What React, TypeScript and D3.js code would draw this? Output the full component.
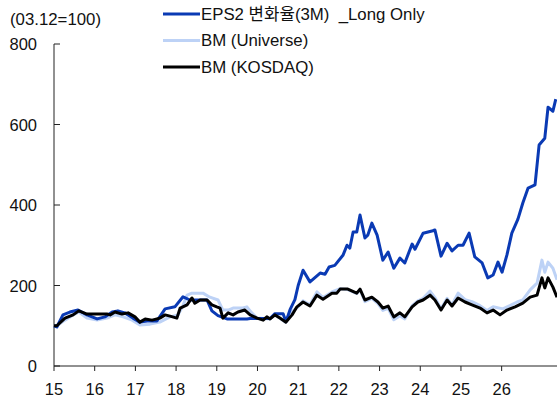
import React from 'react'
import * as d3 from 'd3'

// x = year (2-digit, decimal), y = index (03.12=100)
const yearTicks = [15, 16, 17, 18, 19, 20, 21, 22, 23, 24, 25, 26]
const valueTicks = [0, 200, 400, 600, 800]

const epsSeries: [number, number][] = [
  [15.0, 100], [15.07, 97], [15.22, 127], [15.39, 134], [15.59, 139], [15.81, 127], [16.06, 117],
  [16.25, 122], [16.43, 134], [16.57, 137], [16.74, 132], [16.94, 119], [17.11, 109], [17.29, 112],
  [17.53, 112], [17.73, 142], [17.97, 147], [18.17, 172], [18.34, 164], [18.76, 164], [18.88, 137],
  [19.03, 125], [19.25, 117], [19.74, 117], [19.82, 118], [20.31, 118], [20.43, 130], [20.63, 130],
  [20.7, 110], [20.8, 140], [20.92, 165], [21.0, 200], [21.12, 238], [21.29, 209], [21.54, 231],
  [21.66, 228], [21.76, 246], [21.9, 250], [22.1, 275], [22.2, 300], [22.27, 293], [22.35, 333],
  [22.44, 333], [22.52, 375], [22.64, 318], [22.71, 325], [22.81, 355], [22.94, 325], [23.08, 263],
  [23.21, 283], [23.35, 243], [23.5, 268], [23.62, 256], [23.8, 303], [23.87, 290], [24.07, 330],
  [24.31, 336], [24.36, 338], [24.51, 273], [24.66, 305], [24.78, 286], [24.93, 300], [25.05, 300],
  [25.2, 330], [25.34, 271], [25.52, 256], [25.66, 219], [25.79, 226], [25.91, 258], [26.01, 233],
  [26.13, 276], [26.25, 330], [26.4, 365], [26.52, 405], [26.65, 442], [26.82, 450], [26.92, 549],
  [27.06, 566], [27.14, 643], [27.26, 633], [27.33, 663],
]

const universeSeries: [number, number][] = [
  [15.0, 100], [15.07, 100], [15.27, 114], [15.47, 127], [15.61, 134], [15.81, 119], [16.06, 114],
  [16.3, 119], [16.5, 127], [16.7, 122], [16.92, 114], [17.11, 102], [17.36, 104], [17.6, 109],
  [17.85, 122], [18.05, 127], [18.17, 150], [18.27, 176], [18.39, 181], [18.66, 181], [18.83, 171],
  [19.03, 164], [19.15, 139], [19.28, 139], [19.4, 144], [19.64, 144], [19.74, 147], [19.86, 132],
  [19.99, 119], [20.31, 117], [20.43, 127], [20.68, 109], [20.8, 132], [21.0, 147], [21.12, 162],
  [21.29, 152], [21.46, 184], [21.61, 170], [21.83, 184], [22.03, 192], [22.22, 190], [22.44, 180],
  [22.52, 190], [22.64, 160], [22.81, 168], [22.96, 155], [23.08, 138], [23.21, 143], [23.35, 115],
  [23.5, 125], [23.62, 117], [23.8, 150], [23.94, 162], [24.07, 168], [24.24, 186], [24.36, 170],
  [24.51, 142], [24.66, 168], [24.78, 152], [24.93, 181], [25.1, 165], [25.27, 160], [25.47, 150],
  [25.64, 138], [25.79, 147], [26.03, 142], [26.2, 150], [26.38, 159], [26.52, 164], [26.7, 189],
  [26.87, 206], [26.99, 263], [27.06, 233], [27.14, 258], [27.26, 243], [27.36, 214],
]

const kosdaqSeries: [number, number][] = [
  [15.0, 100], [15.07, 100], [15.27, 119], [15.47, 127], [15.61, 137], [15.81, 129], [15.96, 129],
  [16.3, 129], [16.38, 127], [16.5, 134], [16.67, 129], [16.82, 132], [16.99, 122], [17.11, 109],
  [17.24, 117], [17.41, 114], [17.6, 119], [17.73, 127], [17.85, 124], [18.02, 119], [18.1, 144],
  [18.27, 152], [18.39, 169], [18.46, 156], [18.59, 164], [18.76, 164], [18.88, 152], [19.0, 147],
  [19.08, 144], [19.15, 119], [19.28, 132], [19.4, 127], [19.52, 134], [19.69, 139], [19.82, 127],
  [19.99, 119], [20.14, 114], [20.23, 122], [20.31, 117], [20.43, 127], [20.55, 119], [20.7, 109],
  [20.85, 127], [20.97, 147], [21.12, 159], [21.29, 149], [21.46, 176], [21.61, 166], [21.83, 181],
  [21.95, 181], [22.03, 191], [22.22, 191], [22.44, 181], [22.52, 191], [22.64, 164], [22.81, 171],
  [22.96, 159], [23.08, 144], [23.21, 149], [23.35, 122], [23.5, 132], [23.62, 122], [23.8, 147],
  [23.94, 159], [24.07, 164], [24.24, 176], [24.36, 164], [24.51, 139], [24.66, 164], [24.78, 149],
  [24.93, 169], [25.1, 159], [25.27, 152], [25.47, 144], [25.64, 132], [25.79, 139], [25.96, 127],
  [26.13, 139], [26.33, 147], [26.52, 156], [26.7, 171], [26.87, 176], [26.99, 219], [27.06, 194],
  [27.14, 219], [27.26, 196], [27.36, 171],
]

const legendLabels = ['EPS2 변화율(3M)  _Long Only', 'BM (Universe)', 'BM (KOSDAQ)']
const colors = ['#0A3AB4', '#BDD2F6', '#000000']

const W = 557
const H = 404
const font = '"Liberation Sans", Arial, "Noto Sans CJK KR", sans-serif'

export default function App() {
  const x = d3.scaleLinear().domain([15, 27.36]).range([54, 557])
  const y = d3.scaleLinear().domain([0, 800]).range([366, 44])

  const line = d3
    .line<[number, number]>()
    .x(d => x(d[0]))
    .y(d => y(d[1]))

  // draw order: universe, eps, kosdaq on top
  const drawn = [
    { data: universeSeries, color: colors[1] },
    { data: epsSeries, color: colors[0] },
    { data: kosdaqSeries, color: colors[2] },
  ]

  return (
    <svg
      width={W}
      height={H}
      style={{ position: 'absolute', left: 0, top: 0, background: '#fff' }}
      fontFamily={font}
    >
      <text x={10} y={19} fontSize={16.8} dominantBaseline="central" fill="#111">
        (03.12=100)
      </text>

      {/* y axis */}
      <line x1={x(15)} x2={x(15)} y1={y(800)} y2={y(0)} stroke="#222" strokeWidth={1} />
      {valueTicks.map(v => (
        <g key={v}>
          <line x1={x(15)} x2={x(15) + 6} y1={y(v)} y2={y(v)} stroke="#222" />
          <text x={37} y={y(v)} textAnchor="end" dominantBaseline="central" fontSize={16.5} fill="#111">
            {v}
          </text>
        </g>
      ))}

      {/* x axis */}
      <line x1={x(15)} x2={W} y1={y(0)} y2={y(0)} stroke="#222" strokeWidth={1} />
      {yearTicks.map(t => (
        <g key={t}>
          <line x1={x(t)} x2={x(t)} y1={y(0)} y2={y(0) + 5} stroke="#222" />
          <text x={x(t)} y={395} textAnchor="middle" fontSize={16.5} fill="#111">
            {t}
          </text>
        </g>
      ))}

      {drawn.map((s, i) => (
        <path key={i} d={line(s.data) || ''} fill="none" stroke={s.color} strokeWidth={3} strokeLinejoin="round" />
      ))}

      {/* legend */}
      {legendLabels.map((label, i) => (
        <g key={label} transform={`translate(163, ${14 + i * 26.5})`}>
          <line x1={0} x2={37} y1={0} y2={0} stroke={colors[i]} strokeWidth={3} />
          <text x={38} y={0} dominantBaseline="central" fontSize={16.8} fill="#111" style={{ whiteSpace: 'pre' }}>
            {label}
          </text>
        </g>
      ))}
    </svg>
  )
}
